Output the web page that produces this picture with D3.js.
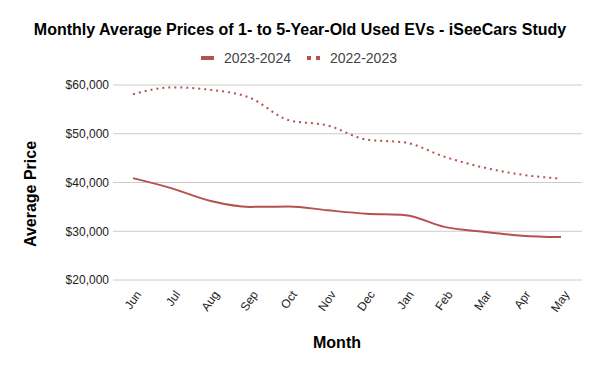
<!DOCTYPE html>
<html>
<head>
<meta charset="utf-8">
<script src="https://cdn.jsdelivr.net/npm/d3@7"></script>
<style>
    body { margin: 0; background: #fff; }
    text { font-family: "Liberation Sans", Arial, sans-serif; }
</style>
</head>
<body>
<svg id="chart" width="600" height="371"></svg>
<script>
const months = ["Jun", "Jul", "Aug", "Sep", "Oct", "Nov", "Dec", "Jan", "Feb", "Mar", "Apr", "May"];
const prices2324 = [40900, 38800, 36200, 35000, 35100, 34300, 33600, 33300, 30900, 29900, 29100, 28800];
const prices2223 = [58100, 59500, 59000, 57400, 52800, 51700, 48800, 48200, 45300, 43100, 41600, 40800];
const yTicks = [20000, 30000, 40000, 50000, 60000];
const seriesNames = ["2023-2024", "2022-2023"];

const color = "#b5524f";
const svg = d3.select("#chart");

const x = d3.scalePoint().domain(months).range([133, 561]);
const y = d3.scaleLinear().domain([20000, 60000]).range([280, 85]);

// gridlines
svg.append("g")
    .selectAll("line")
    .data(yTicks)
    .join("line")
    .attr("x1", 113).attr("x2", 582)
    .attr("y1", d => y(d)).attr("y2", d => y(d))
    .attr("stroke", "#cccccc").attr("stroke-width", 1);

// y axis labels
const yAxis = svg.append("g")
    .attr("transform", "translate(109,0)")
    .call(d3.axisLeft(y).tickValues(yTicks).tickSize(0).tickPadding(0)
        .tickFormat(d => "$" + d3.format(",")(d)));
yAxis.select(".domain").remove();
yAxis.selectAll("text")
    .attr("font-size", 12).attr("fill", "#222")
    .attr("font-family", "Liberation Sans, Arial, sans-serif");

// x axis labels
const xAxis = svg.append("g")
    .attr("transform", "translate(0,292)")
    .call(d3.axisBottom(x).tickSize(0).tickPadding(0));
xAxis.select(".domain").remove();
xAxis.selectAll("text")
    .attr("font-size", 12).attr("fill", "#222")
    .attr("font-family", "Liberation Sans, Arial, sans-serif")
    .attr("text-anchor", "end")
    .attr("dy", "0.35em")
    .attr("transform", "translate(5,0) rotate(-55)");

const line = d3.line()
    .x((d, i) => x(months[i]))
    .y(d => y(d))
    .curve(d3.curveMonotoneX);

svg.append("path")
    .datum(prices2223)
    .attr("d", line)
    .attr("fill", "none")
    .attr("stroke", color)
    .attr("stroke-width", 2)
    .attr("stroke-dasharray", "2,4");

svg.append("path")
    .datum(prices2324)
    .attr("d", line)
    .attr("fill", "none")
    .attr("stroke", color)
    .attr("stroke-width", 2);

// title
svg.append("text")
    .attr("x", 300).attr("y", 35)
    .attr("text-anchor", "middle")
    .attr("font-size", 16).attr("font-weight", "bold").attr("fill", "#000")
    .text("Monthly Average Prices of 1- to 5-Year-Old Used EVs - iSeeCars Study");

// legend
const legend = svg.append("g");
legend.append("line")
    .attr("x1", 201).attr("x2", 214).attr("y1", 58).attr("y2", 58)
    .attr("stroke", color).attr("stroke-width", 4);
legend.append("text")
    .attr("x", 224).attr("y", 63)
    .attr("font-size", 14).attr("fill", "#444")
    .text(seriesNames[0]);
legend.append("line")
    .attr("x1", 307).attr("x2", 320).attr("y1", 58).attr("y2", 58)
    .attr("stroke", color).attr("stroke-width", 4)
    .attr("stroke-dasharray", "4,5");
legend.append("text")
    .attr("x", 330).attr("y", 63)
    .attr("font-size", 14).attr("fill", "#444")
    .text(seriesNames[1]);

// axis titles
svg.append("text")
    .attr("transform", "translate(36,194) rotate(-90)")
    .attr("text-anchor", "middle")
    .attr("font-size", 16).attr("font-weight", "bold").attr("fill", "#000")
    .text("Average Price");

svg.append("text")
    .attr("x", 337).attr("y", 348)
    .attr("text-anchor", "middle")
    .attr("font-size", 16).attr("font-weight", "bold").attr("fill", "#000")
    .text("Month");
</script>
</body>
</html>
